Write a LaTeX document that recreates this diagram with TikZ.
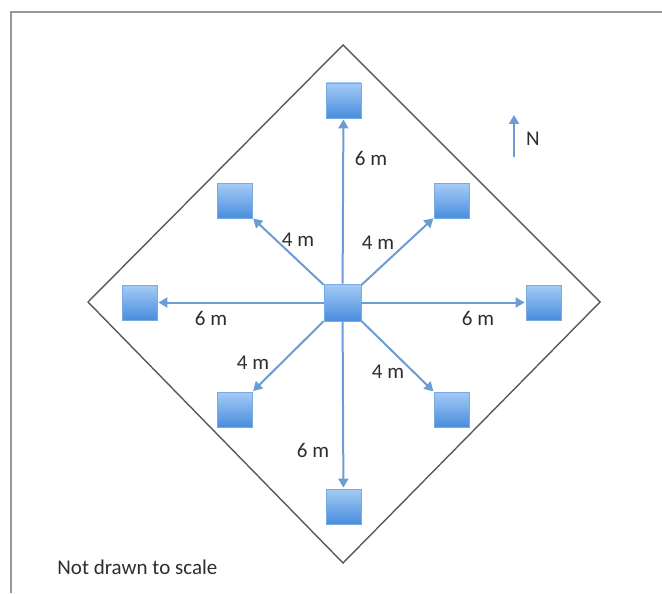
\documentclass[tikz,border=0pt]{standalone}
\usepackage{fontspec}
\setmainfont{Carlito}
\usetikzlibrary{arrows.meta,positioning}
\definecolor{boxtop}{RGB}{165,203,246}
\definecolor{boxbot}{RGB}{72,141,221}
\definecolor{boxline}{RGB}{120,170,228}
\definecolor{linkblue}{RGB}{108,156,212}
\definecolor{textgray}{RGB}{45,45,45}
\begin{document}
\begin{tikzpicture}[x=0.5pt, y=-0.5pt, >={Triangle[length=4.5pt,width=5pt]}]
        \tikzstyle{posnode}=[rectangle, draw=boxline, line width=0.4pt, top color=boxtop, bottom color=boxbot, minimum size=17.5pt, inner sep=0pt]
        \tikzstyle{distlabel}=[text=textgray, font=\fontsize{10.5}{12}\selectfont, inner sep=1pt]
        \tikzstyle{linkline}=[->, draw=linkblue, line width=1pt, shorten >=0.5pt]
        \useasboundingbox (0,0) rectangle (662,593);
        \draw[gray!80, line width=0.9pt] (11,593) -- (11,12) -- (662,12);
        \draw[black!65, line width=0.7pt] (343,45) -- (600,302) -- (343,563) -- (88,302) -- cycle;
        \node[posnode, minimum size=18.5pt] (c) at (342.5,302.5) {};
        \node[posnode] (n) at (343.5,100.5) {};
        \node[posnode] (ne) at (452,201) {};
        \node[posnode] (e) at (543.5,302.5) {};
        \node[posnode] (se) at (452,409.5) {};
        \node[posnode] (s) at (343.5,506.5) {};
        \node[posnode] (sw) at (234.5,409.5) {};
        \node[posnode] (w) at (139.5,302.5) {};
        \node[posnode] (nw) at (234.5,201) {};
        \foreach \x in {n,ne,e,se,s,sw,w,nw} {
            \draw[linkline] (c) -- (\x);
        }
        \node[distlabel] (ln) at (371,158) {6 m};
        \node[distlabel] (lnw) at (298,240) {4 m};
        \node[distlabel] (lne) at (378,243) {4 m};
        \node[distlabel] (lw) at (211,318) {6 m};
        \node[distlabel] (le) at (478,318) {6 m};
        \node[distlabel] (lsw) at (253,363) {4 m};
        \node[distlabel] (lse) at (388,372) {4 m};
        \node[distlabel] (ls) at (313,450) {6 m};
        \coordinate (nfoot) at (514,157);
        \coordinate (ntip) at (514,115);
        \draw[linkline, shorten >=0pt] (nfoot) -- (ntip);
        \node[distlabel] (north) at (533,139) {N};
        \node[distlabel, anchor=west] (note) at (55,567) {Not drawn to scale};
    \end{tikzpicture}
\end{document}
